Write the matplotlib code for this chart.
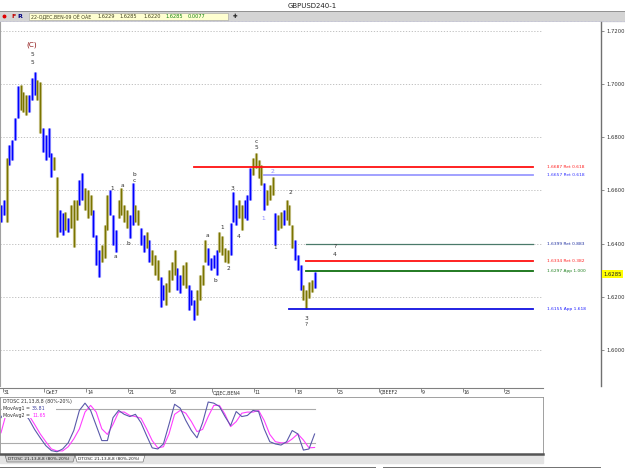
import numpy as np
import matplotlib
matplotlib.use('Agg')
import matplotlib.pyplot as plt
from matplotlib.patches import Rectangle, Polygon

# GBPUSD 4h bars (two bars per slot)
highs = [1.6546, 1.6564, 1.6723, 1.6771, 1.6790, 1.6873, 1.6993, 1.6997, 1.6971, 1.6959,
         1.6959, 1.7023, 1.7046, 1.7016, 1.7008, 1.6835, 1.6809, 1.6835, 1.6741, 1.6726,
         1.6651, 1.6527, 1.6516, 1.6520, 1.6497, 1.6546, 1.6564, 1.6564, 1.6640, 1.6666,
         1.6610, 1.6602, 1.6583, 1.6527, 1.6433, 1.6376, 1.6395, 1.6471, 1.6583, 1.6602,
         1.6508, 1.6452, 1.6564, 1.6610, 1.6546, 1.6527, 1.6508, 1.6629, 1.6546, 1.6527,
         1.6459, 1.6433, 1.6444, 1.6414, 1.6376, 1.6357, 1.6339, 1.6275, 1.6245, 1.6252,
         1.6301, 1.6331, 1.6376, 1.6309, 1.6283, 1.6320, 1.6331, 1.6245, 1.6226, 1.6188,
         1.6226, 1.6283, 1.6320, 1.6414, 1.6384, 1.6346, 1.6357, 1.6376, 1.6444, 1.6429,
         1.6384, 1.6376, 1.6478, 1.6595, 1.6546, 1.6564, 1.6546, 1.6564, 1.6583, 1.6685,
         1.6723, 1.6741, 1.6715, 1.6696, 1.6629, 1.6602, 1.6621, 1.6651, 1.6516, 1.6508,
         1.6520, 1.6527, 1.6564, 1.6546, 1.6471, 1.6414, 1.6357, 1.6320, 1.6245, 1.6226,
         1.6256, 1.6264, 1.6294]
lows = [1.6481, 1.6508, 1.6481, 1.6696, 1.6715, 1.6790, 1.6873, 1.6903, 1.6895, 1.6884,
        1.6895, 1.6940, 1.6959, 1.6940, 1.6817, 1.6745, 1.6715, 1.6726, 1.6651, 1.6677,
        1.6426, 1.6444, 1.6433, 1.6451, 1.6444, 1.6459, 1.6388, 1.6489, 1.6546, 1.6564,
        1.6527, 1.6497, 1.6508, 1.6426, 1.6320, 1.6275, 1.6331, 1.6346, 1.6452, 1.6508,
        1.6395, 1.6369, 1.6497, 1.6508, 1.6481, 1.6459, 1.6422, 1.6471, 1.6481, 1.6471,
        1.6395, 1.6369, 1.6384, 1.6331, 1.6320, 1.6283, 1.6264, 1.6162, 1.6188, 1.6170,
        1.6219, 1.6264, 1.6283, 1.6226, 1.6215, 1.6245, 1.6234, 1.6150, 1.6170, 1.6113,
        1.6132, 1.6188, 1.6245, 1.6331, 1.6320, 1.6301, 1.6309, 1.6283, 1.6369, 1.6357,
        1.6331, 1.6327, 1.6357, 1.6482, 1.6471, 1.6497, 1.6452, 1.6497, 1.6489, 1.6565,
        1.6659, 1.6685, 1.6647, 1.6621, 1.6527, 1.6546, 1.6564, 1.6583, 1.6396, 1.6452,
        1.6459, 1.6471, 1.6489, 1.6471, 1.6384, 1.6339, 1.6301, 1.6226, 1.6188, 1.6154,
        1.6196, 1.6219, 1.6234]
# u = blue bar, d = olive bar
direction = ("uuduuuuddd" "uuudduuuud" "duududdduu" "ddduuudddu" "uudddduudd"
             "uududdduud" "ddduudduuu" "dddduuuudd" "dduuudduuu" "ddddudddud"
             "duddduuudd" "ddu")
last_close = 1.6285
quote = ['1.6229', '1.6285', '1.6220', '1.6285', '0.0077']
quote_date = '22-ОДЕС,ВЕN-09 ОЁ ОÀЕ'

price_levels = [1.60, 1.62, 1.64, 1.66, 1.68, 1.70, 1.72]
week_labels = ['31', 'ОкЕ7', '14', '21', '28', 'ОДЕС,ВЕN4', '11', '18',
               '25', 'ÇВЕЕF2', '9', '16', '23']

fib_levels = [1.6687, 1.6657, 1.6399, 1.6334, 1.6297, 1.6155]
fib_text = ['1.6687 Ret 0.618', '1.6657 Ret 0.618', '1.6399 Ret 0.883',
            '1.6334 Ret 0.382', '1.6297 App 1.000', '1.6155 App 1.618']
fib_start = [68.9, 93.9, 108.9, 108.9, 108.9, 102.9]
fib_color = ['#ff1010', '#9a9aff', '#4a7a6a', '#ff1010', '#107010', '#1010e0']
fib_tcolor = ['#ff2020', '#3030ff', '#2030a0', '#ff2020', '#208020', '#2020ff']

wave_text = ['(C)', '5', '5', '1', 'a', 'b', 'c', 'a', 'b', 'a', 'b', '1', '2',
             '3', '4', 'c', '5', '2', '1', '1', '2', '?', '4', '3', '?']
wave_x = [11.1, 11.1, 11.1, 39.6, 43.2, 47.5, 47.5, 40.7, 45.4, 73.6, 76.4, 78.9, 81.1,
          82.5, 85.0, 91.1, 91.1, 96.8, 93.6, 97.9, 103.2, 119.3, 119.3, 108.9, 108.9]
wave_y = [1.7147, 1.7110, 1.7080, 1.6609, 1.6617, 1.6662, 1.6636, 1.6353, 1.6402,
          1.6429, 1.6263, 1.6459, 1.6308, 1.6609, 1.6425, 1.6786, 1.6760, 1.6673,
          1.6496, 1.6387, 1.6594, 1.6391, 1.6361, 1.6120, 1.6094]

# DTOSC lines, one value every second slot
osc_fast = [65, 80, 85, 82, 75, 62, 44, 29, 15, 6, 4, 9, 20, 42, 78, 91, 78, 51, 24, 24,
            65, 78, 71, 67, 71, 56, 33, 11, 9, 18, 53, 89, 82, 60, 42, 29, 56, 93, 91, 85,
            67, 51, 76, 67, 69, 78, 76, 45, 22, 18, 16, 22, 42, 36, 7, 9, 35.81]
osc_slow = [38, 75, 87, 90, 82, 69, 53, 36, 22, 9, 5.5, 5.5, 13, 27, 45, 75, 87, 75, 45, 35,
            53, 75, 75, 69, 67, 64, 45, 24, 11, 13, 36, 71, 78, 73, 58, 40, 44, 67, 87, 87,
            71, 49, 58, 73, 75, 75, 78, 60, 35, 22, 20, 20, 27, 36, 25, 11, 11.65]

W, H = 625, 469
PX = 2.8  # screen pixels per slot

fig = plt.figure(figsize=(6.25, 4.69), dpi=100)
fig.patch.set_facecolor('white')


def px_axes(x0, y0, x1, y1, **kw):
    return fig.add_axes([x0 / W, 1 - y1 / H, (x1 - x0) / W, (y1 - y0) / H], **kw)


def slot(px):
    return (px - 1) / PX


# window chrome
chrome = px_axes(0, 0, W, H, zorder=0)
chrome.set_xlim(0, W)
chrome.set_ylim(H, 0)
chrome.axis('off')
chrome.text(312, 5.5, 'GBPUSD240-1', ha='center', va='center', fontsize=5, color='#202020')
chrome.plot([0, W], [11.5, 11.5], color='#909090', lw=0.7)
chrome.add_patch(Rectangle((0, 12), W, 9, color='#d4d4d4'))
chrome.plot([0, W], [21.2, 21.2], color='#b8b8d8', lw=0.5, ls=(0, (1, 1)))
chrome.plot(3.5, 16.5, 'o', ms=1.8, color='#e00000')
chrome.text(11, 16.5, 'F', color='#c00000', fontsize=4.5, fontweight='bold', va='center')
chrome.text(17, 16.5, 'R', color='#000080', fontsize=4.5, fontweight='bold', va='center')
chrome.add_patch(Rectangle((29, 13), 199, 7, facecolor='#ffffd0', edgecolor='#a0a0a0', lw=0.4))
chrome.text(31, 16.6, quote_date, fontsize=3.4, va='center', color='#404020')
for q, qx, qc in zip(quote, [98, 119, 143, 165, 188],
                     ['#404020', '#404020', '#404020', '#108010', '#108010']):
    chrome.text(qx, 16.6, q, fontsize=3.6, va='center', color=qc)
chrome.text(235, 16.5, '✚', fontsize=4, va='center', ha='center', color='#202020')
# tabs under the oscillator
chrome.add_patch(Rectangle((0, 455), 543, 8, color='#e4e4e4'))
chrome.add_patch(Polygon([[5, 455], [75, 455], [73, 462], [7, 462]], closed=True,
                         facecolor='#cfcfcf', edgecolor='#606060', lw=0.4))
chrome.add_patch(Polygon([[75, 455], [145, 455], [143, 462], [77, 462]], closed=True,
                         facecolor='#fafafa', edgecolor='#606060', lw=0.4))
chrome.text(8, 458.7, 'DTOSC 21,13,8,8 (80%-20%)', fontsize=3.1, va='center', color='#202020')
chrome.text(78, 458.7, 'DTOSC 21,13,8,8 (80%-20%)', fontsize=3.1, va='center', color='#202020')
chrome.plot([0, 375], [467.5, 467.5], color='#707070', lw=0.7)
chrome.plot([383, 600], [467.5, 467.5], color='#707070', lw=0.7)

# price panel
ax = px_axes(0, 22, 601, 386, zorder=2)
ax.set_xlim(slot(0), slot(601))
ax.set_ylim(1.72 + 9 / 2658, 1.72 - 355 / 2658)
ax.set_ylim(1.72 - 355 / 2658, 1.72 + 9 / 2658)
ax.set_facecolor('white')
for s in ['top', 'bottom']:
    ax.spines[s].set_visible(False)
ax.spines['left'].set_color('#a0a0a0')
ax.spines['right'].set_color('#707070')
ax.spines['right'].set_linewidth(1.0)
ax.set_xticks([])
ax.yaxis.tick_right()
ax.set_yticks(price_levels)
ax.set_yticklabels(['%.4f' % p for p in price_levels])
ax.tick_params(axis='y', length=2.5, width=0.5, color='#606060', labelsize=3.8,
               labelcolor='#303030', pad=1.5)

for lvl in price_levels:
    ax.plot([slot(0), slot(541)], [lvl, lvl], color='#b8b8b8', lw=0.6, ls=(0, (1.5, 2)))

idx = np.arange(len(highs))
hi = np.array(highs)
lo = np.array(lows)
up = np.array([c == 'u' for c in direction])
ax.vlines(idx[up], lo[up], hi[up], color='#9c9cff', lw=2.3)
ax.vlines(idx[~up], lo[~up], hi[~up], color='#cdc893', lw=2.3)
ax.vlines(idx[up], lo[up], hi[up], color='#0000ff', lw=1.0)
ax.vlines(idx[~up], lo[~up], hi[~up], color='#7a7400', lw=1.0)

for lvl, txt, x0, c, tc in zip(fib_levels, fib_text, fib_start, fib_color, fib_tcolor):
    ax.plot([x0, slot(533)], [lvl, lvl], color=c, lw=1.3 if c != '#4a7a6a' else 0.9)
    ax.text(slot(547), lvl, txt, fontsize=3.2, va='center', ha='left', color=tc)

for t, x, y in zip(wave_text, wave_x, wave_y):
    col = '#303030'
    if t == '(C)':
        col = '#8b1010'
    ax.text(x, y, t, fontsize=5.2 if t == '(C)' else 4.2, ha='center', va='center', color=col)
# the two light-blue sub-wave labels
for t, x, y in zip(wave_text[17:19], wave_x[17:19], wave_y[17:19]):
    ax.text(x, y, t, fontsize=4.2, ha='center', va='center', color='#8c8cff',
            bbox=dict(boxstyle='square,pad=0.05', fc='white', ec='none'))

ax.annotate('%.4f' % last_close, xy=(1.0, last_close), xycoords=('axes fraction', 'data'),
            xytext=(1.5, 0), textcoords='offset points', fontsize=3.8, va='center', ha='left',
            color='#202020', annotation_clip=False,
            bbox=dict(boxstyle='square,pad=0.25', fc='#ffff00', ec='none'))

# date strip
ax3 = px_axes(0, 388, 543, 397, zorder=2)
ax3.set_xlim(slot(0), slot(543))
ax3.set_ylim(0, 1)
for s in ['bottom', 'left', 'right']:
    ax3.spines[s].set_visible(False)
ax3.spines['top'].set_color('#808080')
ax3.spines['top'].set_linewidth(0.8)
week_x = 0.6 + 14.93 * np.arange(len(week_labels))
ax3.set_xticks(week_x)
ax3.set_yticks([])
ax3.tick_params(axis='x', top=True, bottom=False, direction='in', length=3, width=0.5,
                color='#606060', labeltop=False, labelbottom=False)
for x, lab in zip(week_x, week_labels):
    ax3.text(x + 0.3, 0.45, lab, fontsize=3.4, va='center', ha='left', color='#303030')

# oscillator panel
ax2 = px_axes(0, 397, 543, 454, zorder=2)
ax2.set_xlim(slot(0), slot(543))
ax2.set_ylim(0, 102)
ax2.set_xticks([])
ax2.set_yticks([])
for s in ['top', 'left', 'right']:
    ax2.spines[s].set_color('#909090')
    ax2.spines[s].set_linewidth(0.6)
ax2.spines['bottom'].set_color('#555555')
ax2.spines['bottom'].set_linewidth(1.8)
osc_x = np.arange(0, len(highs), 2)
ax2.plot([osc_x[0], osc_x[-1]], [80, 80], color='#ababab', lw=0.8)
ax2.plot([osc_x[0], osc_x[-1]], [20, 20], color='#ababab', lw=0.8)
ax2.plot(osc_x, osc_slow, color='#ff40ff', lw=0.8)
ax2.plot(osc_x, osc_fast, color='#5a5aaa', lw=0.8)


def oy(py):
    return (454 - py) * 102 / 57


ax2.add_patch(Rectangle((slot(2), oy(404)), slot(79) - slot(2), oy(398.5) - oy(404),
                        facecolor='white', edgecolor='none', zorder=3))
ax2.add_patch(Rectangle((slot(2), oy(418)), slot(56) - slot(2), oy(404) - oy(418),
                        facecolor='white', edgecolor='none', zorder=3))
ax2.text(slot(3), oy(401.3), 'DTOSC 21,13,8,8 (80%-20%)', fontsize=3.4, va='center',
         color='#303030', zorder=4)
ax2.text(slot(3), oy(408.5), 'MovAvg1 = ', fontsize=3.4, va='center', color='#303030', zorder=4)
ax2.text(slot(32), oy(408.5), '%.2f' % osc_fast[-1], fontsize=3.4, va='center',
         color='#4040a0', zorder=4)
ax2.text(slot(3), oy(415), 'MovAvg2 = ', fontsize=3.4, va='center', color='#303030', zorder=4)
ax2.text(slot(32), oy(415), '%.2f' % osc_slow[-1], fontsize=3.4, va='center',
         color='#ff20ff', zorder=4)

fig.savefig('out.png', dpi=100)
